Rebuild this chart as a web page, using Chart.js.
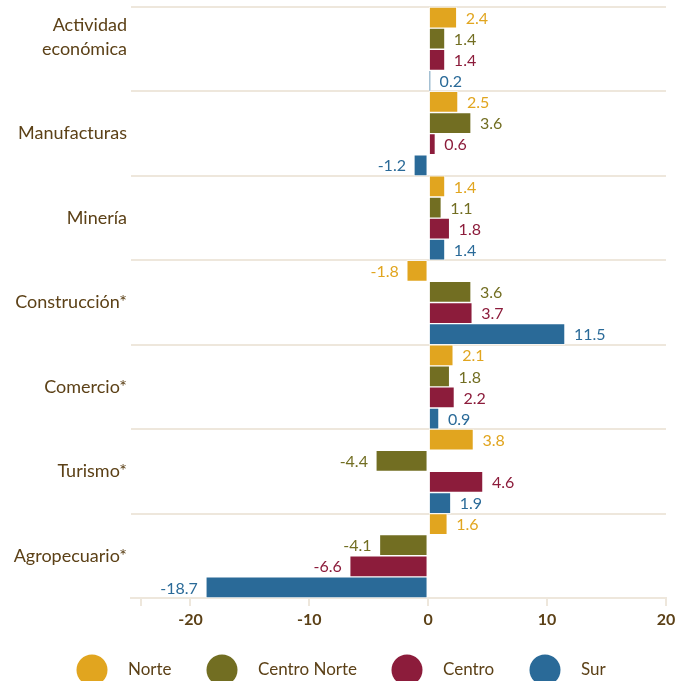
<!DOCTYPE html>
<html>
<head>
<meta charset="utf-8">
<script src="https://cdn.jsdelivr.net/npm/chart.js@4.4.1/dist/chart.umd.min.js"></script>
<style>
html,body{margin:0;padding:0;background:#fff;}
#wrap{width:675px;height:681px;position:relative;}
</style>
</head>
<body>
<div id="wrap"><canvas id="c" width="675" height="681"></canvas></div>
<script>
const categories = [['Actividad','económica',''], 'Manufacturas', 'Minería', 'Construcción*', 'Comercio*', 'Turismo*', 'Agropecuario*'];
const seriesNames = ['Norte', 'Centro Norte', 'Centro', 'Sur'];
const norte       = [2.4, 2.5, 1.4, -1.8, 2.1, 3.8, 1.6];
const centroNorte = [1.4, 3.6, 1.1, 3.6, 1.8, -4.4, -4.1];
const centro      = [1.4, 0.6, 1.8, 3.7, 2.2, 4.6, -6.6];
const sur         = [0.2, -1.2, 1.4, 11.5, 0.9, 1.9, -18.7];
const xTicks = [-20, -10, 0, 10, 20];

const colors = ['#E1A51F', '#726E22', '#8C1C3B', '#2A6A98'];
const brown = '#5C4117';
const gridColor = '#EEE7DC';
const FONT = 'Lato, "Open Sans", sans-serif';

const valueLabels = {
  id: 'valueLabels',
  afterDatasetsDraw(chart) {
    const ctx = chart.ctx;
    ctx.save();
    ctx.font = '16px ' + FONT;
    ctx.textBaseline = 'middle';
    chart.data.datasets.forEach((ds, di) => {
      const meta = chart.getDatasetMeta(di);
      meta.data.forEach((el, i) => {
        const v = ds.data[i];
        ctx.fillStyle = colors[di];
        const t = v.toFixed(1);
        if (v >= 0) { ctx.textAlign = 'left'; ctx.fillText(t, el.x + 9, el.y + 1); }
        else { ctx.textAlign = 'right'; ctx.fillText(t, el.x - 8, el.y + 1); }
      });
    });
    ctx.restore();
  }
};

const bigLegend = {
  id: 'bigLegend',
  afterDraw(chart) {
    const ctx = chart.ctx;
    const centers = [92, 222, 407, 545];
    const cy = 670;
    ctx.save();
    ctx.font = '17px ' + FONT;
    ctx.textBaseline = 'middle';
    ctx.textAlign = 'left';
    chart.data.datasets.forEach((ds, di) => {
      ctx.beginPath();
      ctx.fillStyle = ds.backgroundColor;
      ctx.arc(centers[di], cy, 15.5, 0, Math.PI * 2);
      ctx.fill();
      ctx.fillStyle = brown;
      ctx.fillText(ds.label, centers[di] + 36, cy);
    });
    ctx.restore();
  }
};

const seriesData = [norte, centroNorte, centro, sur];
new Chart(document.getElementById('c'), {
  type: 'bar',
  data: {
    labels: categories,
    datasets: seriesNames.map((n, i) => ({
      label: n,
      data: seriesData[i],
      backgroundColor: colors[i],
      borderColor: 'rgba(255,255,255,0.55)',
      borderWidth: 1,
      borderSkipped: false,
      categoryPercentage: 1.0,
      barPercentage: 1.0
    }))
  },
  options: {
    indexAxis: 'y',
    responsive: false,
    animation: false,
    layout: { padding: { top: 7, right: 9, bottom: 43, left: 0 } },
    plugins: { legend: { display: false }, tooltip: { enabled: false } },
    scales: {
      x: {
        min: -25, max: 20,
        afterBuildTicks(axis) { axis.ticks = [{value: -24.2}].concat(xTicks.map(v => ({value: v}))); },
        afterFit(axis) { axis.height = 40; axis.paddingLeft = 0; axis.paddingRight = 0; },
        grid: { drawOnChartArea: false, drawTicks: true, tickLength: 8, color: gridColor, lineWidth: 2 },
        border: { display: true, color: gridColor, width: 2 },
        ticks: {
          padding: 4,
          color: brown,
          font: { family: FONT, size: 16, weight: 'bold' },
          callback(v) { return xTicks.includes(v) ? String(v) : ''; }
        }
      },
      y: {
        afterFit(axis) { axis.width = 131; axis.paddingTop = 0; axis.paddingBottom = 0; },
        grid: { offset: true, drawTicks: false, color: gridColor, lineWidth: 2 },
        border: { display: false },
        ticks: {
          padding: 4,
          color: brown,
          font: { family: FONT, size: 18, lineHeight: 1.33 }
        }
      }
    }
  },
  plugins: [valueLabels, bigLegend]
});
</script>
</body>
</html>
